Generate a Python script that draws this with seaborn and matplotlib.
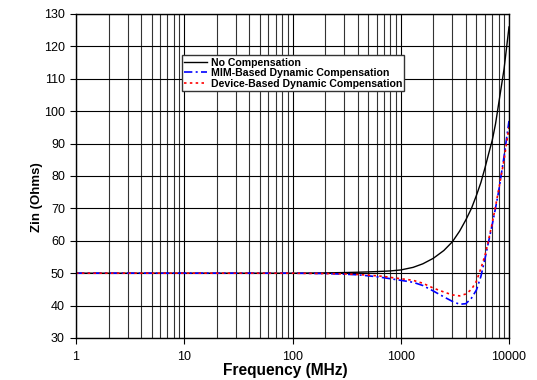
import matplotlib
matplotlib.use("Agg")
import matplotlib.pyplot as plt
import matplotlib.ticker as mticker
import seaborn as sns

plt.rcParams['font.family'] = ['Liberation Sans', 'DejaVu Sans']

freq = [1, 10, 100, 200, 300, 400, 500, 600, 700, 800, 1000, 1300, 1600, 2000,
        2500, 3000, 3500, 4000, 4500, 5000, 5500, 6000, 6500, 7000, 7500, 8000,
        9000, 10000]
no_comp = [50, 50, 50, 50.1, 50.2, 50.3, 50.4, 50.5, 50.6, 50.7, 51, 51.8, 52.9,
           54.6, 57, 59.7, 63, 66.5, 70, 74, 78, 82.5, 87, 91, 96, 102, 113, 126]
mim_comp = [50, 50, 50, 49.9, 49.7, 49.5, 49.2, 48.9, 48.6, 48.3, 47.8, 47.2, 46.2,
            44.5, 42.7, 41.3, 40.4, 40.6, 42.3, 44.8, 49, 54.5, 60, 65, 70, 75,
            86, 97]
dev_comp = [50, 50, 50, 49.9, 49.8, 49.6, 49.4, 49.2, 49.0, 48.7, 48.3, 47.8, 46.9,
            45.4, 44.2, 43.3, 43, 43.6, 45, 47.5, 51.5, 55.5, 60.5, 65.5, 70.5,
            75.5, 85, 95]
labels = ["No Compensation", "MIM-Based Dynamic Compensation",
          "Device-Based Dynamic Compensation"]
x_ticks = [1, 10, 100, 1000, 10000]
y_ticks = list(range(30, 131, 10))

fig = plt.figure(figsize=(5.37, 3.80), dpi=100)
ax = fig.add_axes([76/537, 1-338/380, 433/537, 324/380])

sns.lineplot(x=freq, y=no_comp, ax=ax, color='black', lw=1.0, label=labels[0])
sns.lineplot(x=freq, y=mim_comp, ax=ax, color='#0000ff', lw=1.2,
             linestyle=(0, (5, 2, 1.2, 2)), label=labels[1])
sns.lineplot(x=freq, y=dev_comp, ax=ax, color='#ff0000', lw=1.2,
             linestyle=(0, (1.5, 2)), label=labels[2])

ax.set_xscale('log')
ax.set_xlim(1, 10000)
ax.set_ylim(30, 130)
ax.set_xticks(x_ticks)
ax.xaxis.set_major_formatter(mticker.FuncFormatter(lambda v, p: f"{int(round(v))}"))
ax.xaxis.set_minor_locator(mticker.LogLocator(base=10, subs=range(2, 10)))
ax.xaxis.set_minor_formatter(mticker.NullFormatter())
ax.set_yticks(y_ticks)

ax.grid(which='major', color='black', lw=0.8)
ax.grid(which='minor', axis='x', color='#333333', lw=0.8)
ax.set_axisbelow(True)

ax.tick_params(axis='x', which='major', length=4, width=0.8, pad=5.5, labelsize=9,
               direction='out')
ax.tick_params(axis='x', which='minor', length=0)
ax.tick_params(axis='y', which='major', length=4, width=0.8, pad=4, labelsize=9,
               direction='out')
for s in ax.spines.values():
    s.set_color('black')
    s.set_linewidth(1.0)

ax.set_xlabel("Frequency (MHz)", fontsize=11.2, fontweight='bold')
ax.set_ylabel("Zin (Ohms)", fontsize=9.5, fontweight='bold')
ax.xaxis.set_label_coords(0.483, -0.076)
ax.yaxis.set_label_coords(-0.076, 0.435)

leg = ax.legend(loc='upper left', bbox_to_anchor=(0.245, 0.872), frameon=True,
                fancybox=False, edgecolor='#333333', framealpha=1,
                prop={'size': 7.6, 'weight': 'bold'}, handlelength=2.2,
                labelspacing=0.05, borderpad=0.2, handletextpad=0.3,
                borderaxespad=0)
leg.get_frame().set_linewidth(1.0)

fig.savefig("out.png", dpi=100, facecolor='white')
